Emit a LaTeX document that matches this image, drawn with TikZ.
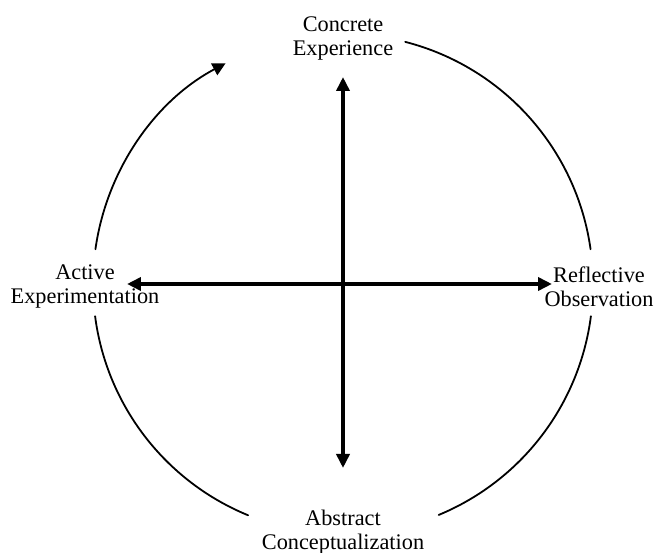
\documentclass[tikz,border=0pt]{standalone}
\usepackage{fontspec}
\setmainfont{Liberation Serif}
\usetikzlibrary{positioning, arrows.meta}

\tikzset{
  stage/.style={align=center, inner sep=0pt},
  axisarrow/.style={line width=4pt, {Triangle[length=14pt,width=13pt]}-{Triangle[length=14pt,width=13pt]}},
  cyclearc/.style={line width=1.8pt},
}

\begin{document}
\begin{tikzpicture}[x=1pt, y=1pt, font=\fontsize{22.3}{24}\selectfont, line cap=round]
    \useasboundingbox (-343,-269) rectangle (313,284);
    \node[stage] (ce) at (0,246) {Concrete\\Experience};
    \node[stage] (ac) at (-258,-2.5) {Active\\Experimentation};
    \node[stage] (ro) at (256,-2.5) {Reflective\\Observation};
    \node[stage] (ab) at (0,-248) {Abstract\\Conceptualization};
    \draw[axisarrow, shorten <=64pt, shorten >=39pt] (ab.center) -- (ce.center);
    \draw[axisarrow, shorten <=42pt, shorten >=47pt] ([yshift=2.5pt]ac.center) -- ([yshift=2.5pt]ro.center);
    \foreach \a/\b in {75.6/8, 187.4/247.7, 292.5/352.6}
      \draw[cyclearc] (\a:250pt) arc[start angle=\a, end angle=\b, radius=250pt];
    \draw[cyclearc, -{Triangle[length=13pt,width=13pt]}]
      (172:250pt) arc[start angle=172, end angle=118, radius=250pt];
  \end{tikzpicture}
\end{document}
